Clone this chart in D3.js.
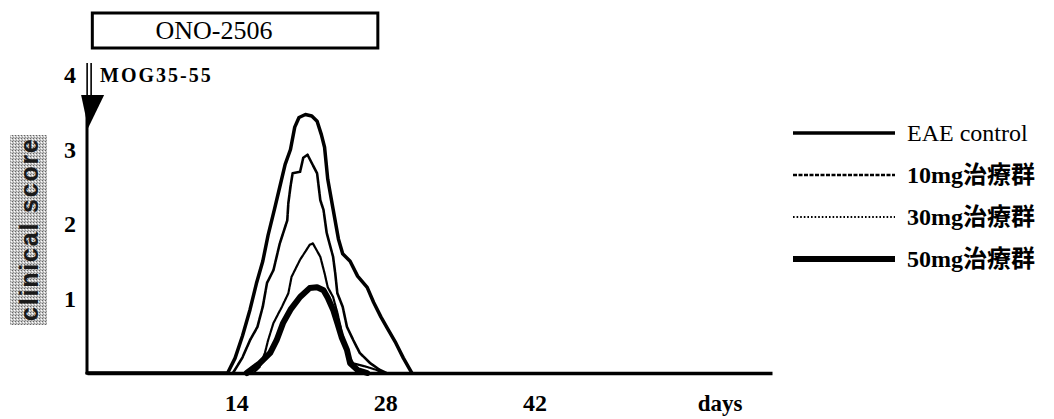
<!DOCTYPE html>
<html>
<head>
<meta charset="utf-8">
<script src="https://cdn.jsdelivr.net/npm/d3@7"></script>
<style>
  html, body { margin: 0; padding: 0; background: #fff; }
  svg { display: block; }
</style>
</head>
<body>
<div id="chart"></div>
<script>
/* clinical score curves, [day, score] */
const eaeControl = [[0, 0], [13.2, 0], [13.9, 0.2], [14.6, 0.5], [15.3, 0.85], [15.9, 1.2], [16.5, 1.5],
    [17.0, 1.85], [17.6, 2.2], [18.1, 2.5], [18.6, 2.8], [19.1, 3.0], [19.5, 3.3], [19.9, 3.43],
    [20.5, 3.47], [21.1, 3.45], [21.6, 3.38], [22.0, 3.2], [22.3, 3.03], [22.6, 2.6], [23.1, 2.2],
    [23.6, 1.8], [24.0, 1.6], [24.7, 1.5], [25.4, 1.3], [26.3, 1.15], [26.9, 0.95], [27.6, 0.75],
    [28.2, 0.6], [29.0, 0.4], [29.7, 0.2], [30.3, 0.05], [30.5, 0]];
const dose10 = [[13.7, 0], [14.6, 0.21], [15.3, 0.44], [16.0, 0.62], [16.5, 0.89], [16.9, 1.21],
    [17.5, 1.38], [18.1, 1.74], [18.8, 2.05], [18.9, 2.28], [19.1, 2.5], [19.3, 2.68], [20.0, 2.7],
    [20.3, 2.89], [20.7, 2.93], [21.2, 2.79], [21.6, 2.68], [21.9, 2.32], [22.2, 2.19], [22.5, 1.88],
    [23.1, 1.56], [23.3, 1.34], [23.5, 1.07], [24.0, 0.89], [24.4, 0.62], [25.0, 0.44], [25.6, 0.27],
    [26.6, 0.13], [27.5, 0.04], [28.1, 0]];
const dose30 = [[15.6, 0], [16.2, 0.08], [16.7, 0.27], [17.0, 0.44], [17.5, 0.67], [18.3, 0.89],
    [18.9, 1.07], [19.2, 1.29], [20.0, 1.52], [20.9, 1.72], [21.2, 1.74], [21.9, 1.56], [22.3, 1.34],
    [22.6, 1.15], [23.1, 1.02], [23.5, 0.81], [23.8, 0.62], [24.0, 0.44], [24.4, 0.27], [25.0, 0.13],
    [26.3, 0.08], [27.2, 0.04], [27.7, 0]];
const dose50 = [[15.0, 0], [16.2, 0.13], [17.2, 0.27], [17.8, 0.44], [18.4, 0.67], [19.1, 0.85],
    [20.0, 1.02], [20.9, 1.14], [21.6, 1.15], [22.2, 1.11], [22.6, 1.01], [23.1, 0.85], [23.5, 0.67],
    [23.9, 0.48], [24.4, 0.31], [24.7, 0.13], [25.4, 0.04], [26.3, 0]];

const seriesNames = ["EAE control", "10mg治療群", "30mg治療群", "50mg治療群"];
const xTicks = [14, 28, 42];
const yTicks = [1, 2, 3, 4];
const treatmentDays = [0.5, 27.3];   // ONO-2506 dosing bar
const injectionDay = 0.2;           // MOG35-55 arrow

const allSeries = [eaeControl, dose10, dose30, dose50];
const strokeWidths = [3.5, 2.6, 2.2, 6];
const chartDash = [null, "9,1", "4,1", null];
const legendDash = [null, "4,1.5", "1.6,2", null];

const W = 1054, H = 419;
const svg = d3.select("#chart").append("svg")
    .attr("width", W)
    .attr("height", H);

const x = d3.scaleLinear().domain([0, 64.3]).range([87, 772]);
const y = d3.scaleLinear().domain([0, 4]).range([373, 75]);

const serif = "'Liberation Serif', 'DejaVu Serif', 'Noto Sans CJK JP', serif";

/* stippled background for the y title */
const pat = svg.append("defs").append("pattern")
    .attr("id", "stipple")
    .attr("width", 3).attr("height", 3)
    .attr("patternUnits", "userSpaceOnUse");
pat.append("rect").attr("width", 3).attr("height", 3).attr("fill", "#c6c6c6");
pat.append("rect").attr("x", 0).attr("y", 0).attr("width", 1).attr("height", 1).attr("fill", "#666");
pat.append("rect").attr("x", 2).attr("y", 1).attr("width", 1).attr("height", 1).attr("fill", "#ffffff");
pat.append("rect").attr("x", 1).attr("y", 2).attr("width", 1).attr("height", 1).attr("fill", "#939393");

svg.append("rect")
    .attr("x", 10).attr("y", 135)
    .attr("width", 37).attr("height", 190)
    .attr("fill", "url(#stipple)");
svg.append("text")
    .attr("transform", "translate(29,230) rotate(-90)")
    .attr("text-anchor", "middle")
    .attr("dominant-baseline", "central")
    .attr("textLength", 182)
    .attr("lengthAdjust", "spacing")
    .style("font-family", "'Liberation Sans', Arial, sans-serif")
    .style("font-weight", "bold")
    .style("font-size", "25px")
    .style("fill", "#1a1a1a")
    .text("clinical score");

/* ONO-2506 treatment bar */
svg.append("rect")
    .attr("x", x(treatmentDays[0])).attr("y", 13)
    .attr("width", x(treatmentDays[1]) - x(treatmentDays[0]))
    .attr("height", 35)
    .attr("fill", "none")
    .attr("stroke", "#000")
    .attr("stroke-width", 3);
svg.append("text")
    .attr("x", 214).attr("y", 39)
    .attr("text-anchor", "middle")
    .style("font-family", serif)
    .style("font-size", "26px")
    .text("ONO-2506");

/* MOG35-55 injection arrow */
const ax = x(injectionDay);
svg.append("line").attr("x1", ax - 2).attr("x2", ax - 2).attr("y1", 63).attr("y2", 100)
    .attr("stroke", "#000").attr("stroke-width", 1.6);
svg.append("line").attr("x1", ax + 2).attr("x2", ax + 2).attr("y1", 63).attr("y2", 100)
    .attr("stroke", "#000").attr("stroke-width", 1.6);
svg.append("path")
    .attr("d", `M${ax - 8},95 L${ax + 15},95 L${ax - 1},128 Z`)
    .attr("fill", "#000");
svg.append("text")
    .attr("x", 100).attr("y", 82)
    .style("font-family", serif)
    .style("font-weight", "bold")
    .style("font-size", "20px")
    .style("letter-spacing", "2px")
    .text("MOG35-55");

/* axes */
const xAxis = svg.append("g")
    .attr("transform", `translate(0, ${y(0)})`)
    .call(d3.axisBottom(x).tickValues(xTicks).tickSize(0).tickSizeOuter(0).tickPadding(21));
xAxis.select(".domain").attr("stroke", "#000").attr("stroke-width", 3.5);
xAxis.selectAll("text")
    .style("font-family", serif).style("font-weight", "bold").style("font-size", "24px").attr("fill", "#000");

const yAxis = svg.append("g")
    .attr("transform", `translate(${x(0)}, 0)`)
    .call(d3.axisLeft(y).tickValues(yTicks).tickFormat(d3.format("d")).tickSize(0).tickPadding(11));
yAxis.select(".domain").remove();
yAxis.selectAll("text")
    .style("font-family", serif).style("font-weight", "bold").style("font-size", "24px").attr("fill", "#000");

svg.append("line")
    .attr("x1", x(0)).attr("x2", x(0))
    .attr("y1", y(3.6)).attr("y2", y(0) + 1.5)
    .attr("stroke", "#000").attr("stroke-width", 3);

svg.append("text")
    .attr("x", 720).attr("y", 411)
    .attr("text-anchor", "middle")
    .style("font-family", serif)
    .style("font-weight", "bold")
    .style("font-size", "23px")
    .text("days");

/* curves */
const line = d3.line()
    .x(d => x(d[0]))
    .y(d => y(d[1]))
    .curve(d3.curveLinear);

svg.append("g")
    .selectAll("path")
    .data(allSeries)
    .join("path")
    .attr("d", d => line(d))
    .attr("fill", "none")
    .attr("stroke", "#000")
    .attr("stroke-linejoin", "round")
    .attr("stroke-linecap", "round")
    .attr("stroke-width", (d, i) => strokeWidths[i])
    .attr("stroke-dasharray", (d, i) => chartDash[i]);

/* legend */
const legend = svg.append("g").selectAll("g")
    .data(seriesNames)
    .join("g")
    .attr("transform", (d, i) => `translate(793, ${133 + i * 42})`);
legend.append("line")
    .attr("x1", 0).attr("x2", 102)
    .attr("stroke", "#000")
    .attr("stroke-width", (d, i) => strokeWidths[i])
    .attr("stroke-dasharray", (d, i) => legendDash[i]);
legend.append("text")
    .attr("x", 114)
    .attr("dy", "0.35em")
    .style("font-family", serif)
    .style("font-weight", (d, i) => i === 0 ? "normal" : "bold")
    .style("font-size", "24px")
    .text(d => d);
</script>
</body>
</html>
